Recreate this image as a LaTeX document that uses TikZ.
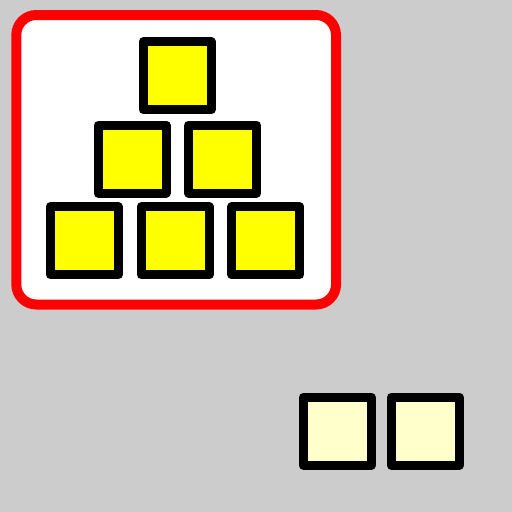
\documentclass[tikz,border=0pt]{standalone}
\definecolor{bg}{HTML}{CCCCCC}
\definecolor{boxyellow}{HTML}{FFFF00}
\definecolor{boxlight}{HTML}{FFFFCC}
\tikzset{
  sq/.style={draw=black, line width=9pt, line join=round, minimum size=68pt, inner sep=0pt, outer sep=0pt},
  sqy/.style={sq, fill=boxyellow},
  sql/.style={sq, fill=boxlight},
}
\begin{document}
\begin{tikzpicture}[x=1pt,y=-1pt]
\fill[bg] (0,0) rectangle (512,512);
\useasboundingbox (0,0) rectangle (512,512);
\draw[red, line width=10pt, fill=white, rounded corners=20pt] (16.3,15) rectangle (336,304.5);
\node[sqy] (t)  at (177.2,75.8) {};
\node[sqy] (m1) at (132,159) {};
\node[sqy] (m2) at (222.7,159) {};
\node[sqy] (b1) at (84.2,240.8) {};
\node[sqy] (b2) at (175.2,240.8) {};
\node[sqy] (b3) at (265.8,240.8) {};
\node[sql] (l1) at (337.2,431.2) {};
\node[sql] (l2) at (425.3,431.2) {};
\end{tikzpicture}
\end{document}
